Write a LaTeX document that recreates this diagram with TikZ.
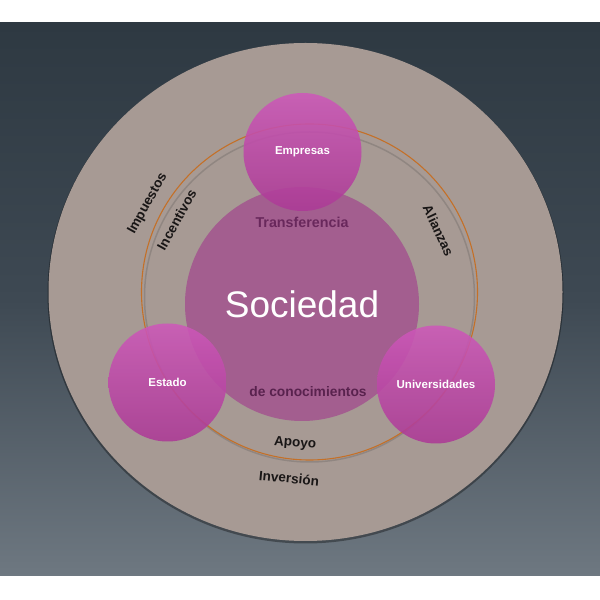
\documentclass[tikz,border=0pt]{standalone}
\usepackage{fontspec}
\setmainfont{Liberation Sans}
\definecolor{fondoalto}{RGB}{46,57,66}
\definecolor{fondomedio}{RGB}{62,73,83}
\definecolor{fondobajo}{RGB}{110,120,129}
\definecolor{topo}{RGB}{167,154,148}
\definecolor{anillo}{RGB}{196,112,40}
\definecolor{sociedad}{RGB}{163,94,143}
\definecolor{magclaro}{RGB}{205,88,185}
\definecolor{magoscuro}{RGB}{172,58,150}
\definecolor{ciruela}{RGB}{105,40,92}
\definecolor{tinta}{RGB}{25,22,22}
\begin{document}
\begin{tikzpicture}[x=1pt,y=1pt,line join=round,line cap=round]
	\tikzset{actor/.style={circle,minimum size=118pt,inner sep=0pt,top color=magclaro,bottom color=magoscuro,
			fill opacity=.88,text opacity=1,text=white,font=\bfseries\fontsize{11.5}{12}\selectfont},
		etiqueta/.style={text=tinta,font=\bfseries\fontsize{13.5}{14}\selectfont,inner sep=0pt}}
	\useasboundingbox (0,0) rectangle (600,600);
	\fill[white] (0,0) rectangle (600,600);
	\shade[top color=fondomedio,bottom color=fondobajo] (0,24) rectangle (600,300.5);
	\shade[top color=fondoalto,bottom color=fondomedio] (0,300) rectangle (600,577);
	% disco exterior y anillo
	\fill[black,opacity=.35] (305.5,306.5) ellipse (258 and 250);
	\fill[topo] (305.5,308) ellipse (257 and 249);
	\coordinate (ctr) at (307,308);
	\draw[black!70,line width=1.5pt,opacity=.25] (309.5,303) circle (165);
	\draw[anillo,line width=1.1pt] (309.5,308) circle (168);
	% circulos
	\node[circle,fill=sociedad,minimum size=234pt,inner sep=0pt,text=white,font=\fontsize{37}{40}\selectfont] (soc) at (302,296) {Sociedad};
	\node[actor] (emp) at (302.5,448) {Empresas};
	\node[actor] (est) at (167.5,217.5) {Estado};
	\node[actor] (uni) at (436,215.5) {Universidades};
	\node[anchor=base,text=ciruela,font=\bfseries\fontsize{14.3}{15}\selectfont] (transf) at (302,372) {Transferencia};
	\node[anchor=base,text=ciruela!85!black,font=\bfseries\fontsize{13.8}{15}\selectfont] (conoc) at (308,203) {de conocimientos};
	\foreach \nom/\txt/\ang/\rad/\rot in {imp/Impuestos/151/182/61, inc/Incentivos/151/149/61, ali/Alianzas/25/145/-65,
		apo/Apoyo/265.5/152/-4.5, inv/Inversión/264.5/187/-5.5}
	\node[etiqueta,rotate=\rot] (\nom) at ([shift={(\ang:\rad)}]ctr) {\txt};
\end{tikzpicture}
\end{document}
